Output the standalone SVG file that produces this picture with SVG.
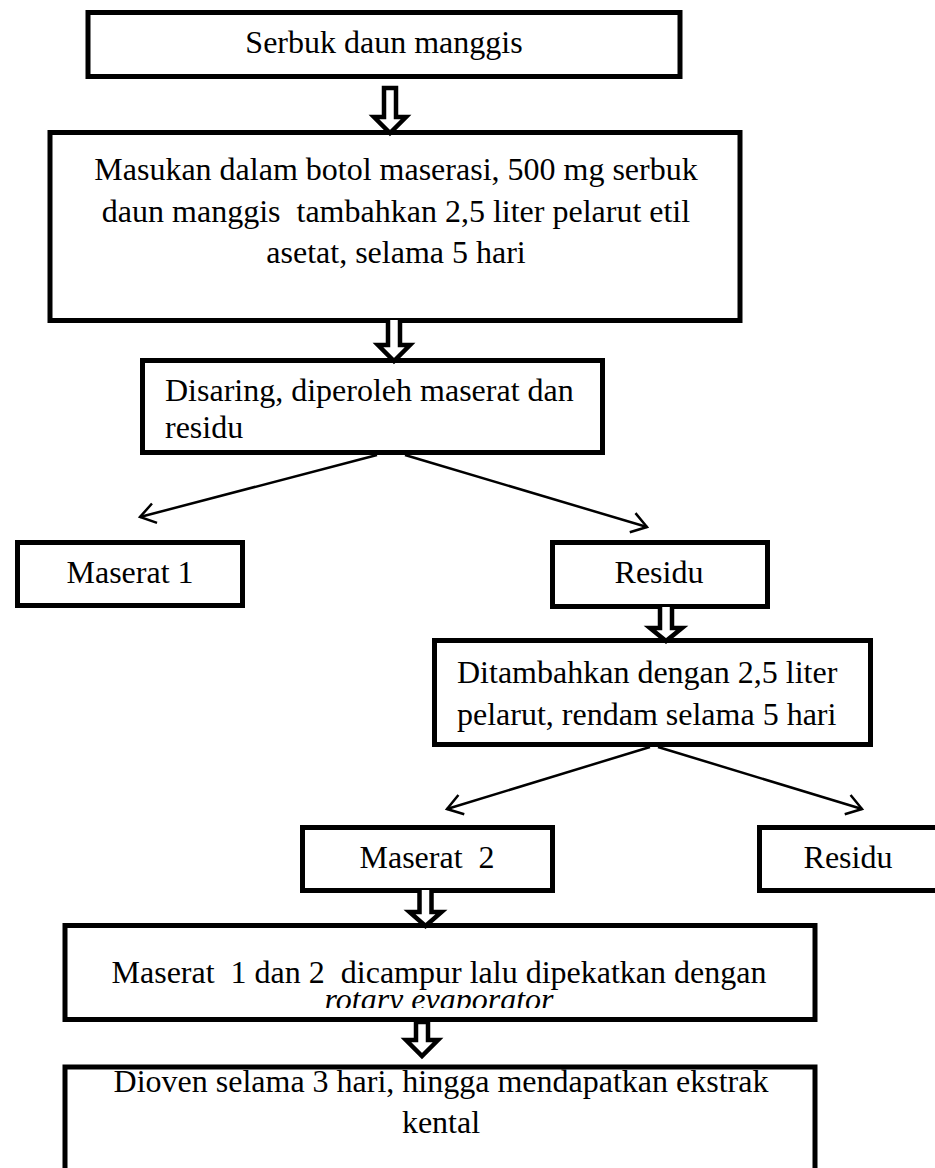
<svg xmlns="http://www.w3.org/2000/svg" width="935" height="1168" viewBox="0 0 935 1168">
<style>
.box{fill:#fff;stroke:#000;stroke-width:5}
.t{font-family:"Liberation Serif","Times New Roman",serif;font-size:32px;fill:#000;white-space:pre}
.c{text-anchor:middle}
.i{font-style:italic}
.blk{fill:#fff;stroke:#000;stroke-width:4.5;stroke-linejoin:miter}
.ln{fill:none;stroke:#000;stroke-width:2.5}
</style>
<defs>
<marker id="open" viewBox="-18 -12 22 24" markerWidth="22" markerHeight="24" refX="0" refY="0" orient="auto" markerUnits="userSpaceOnUse" overflow="visible">
<path d="M-15,-10 L0,0 L-15,10" fill="none" stroke="#000" stroke-width="2.5"/>
</marker>
<clipPath id="clip4"><rect x="60" y="920" width="760" height="88"/></clipPath>
</defs>
<rect width="935" height="1168" fill="#fff"/>

<g id="n1">
<rect class="box" x="88" y="12.5" width="592" height="64"/>
<text class="t c" x="384" y="53">Serbuk daun manggis</text>
</g>

<g id="n2">
<rect class="box" x="50" y="132.5" width="690" height="188"/>
<text class="t c" x="396" y="180">Masukan dalam botol maserasi, 500 mg serbuk</text>
<text class="t c" x="396" y="222">daun manggis  tambahkan 2,5 liter pelarut etil</text>
<text class="t c" x="396" y="263">asetat, selama 5 hari</text>
</g>

<g id="n3">
<rect class="box" x="142.5" y="360.5" width="460" height="92"/>
<text class="t" x="165" y="401">Disaring, diperoleh maserat dan</text>
<text class="t" x="165" y="438">residu</text>
</g>

<g id="n4">
<rect class="box" x="17.5" y="542.5" width="225" height="63"/>
<text class="t c" x="130" y="583">Maserat 1</text>
</g>

<g id="n5">
<rect class="box" x="552.5" y="542.5" width="215" height="64"/>
<text class="t c" x="659" y="583">Residu</text>
</g>

<g id="n6">
<rect class="box" x="434.5" y="640.5" width="436" height="104"/>
<text class="t" x="457" y="683">Ditambahkan dengan 2,5 liter</text>
<text class="t" x="457" y="725">pelarut, rendam selama 5 hari</text>
</g>

<g id="n7">
<rect class="box" x="302.5" y="827.5" width="250" height="63"/>
<text class="t c" x="427" y="868">Maserat  2</text>
</g>

<g id="n8">
<rect class="box" x="759.5" y="827.5" width="190" height="63"/>
<text class="t c" x="848" y="868">Residu</text>
</g>

<g id="n9">
<rect class="box" x="65" y="925.5" width="750" height="94"/>
<g clip-path="url(#clip4)">
<text class="t c" x="439" y="983">Maserat  1 dan 2  dicampur lalu dipekatkan dengan</text>
<text class="t c i" x="439" y="1010">rotary evaporator</text>
</g>
</g>

<g id="n10">
<rect class="box" x="65" y="1067" width="750" height="200"/>
<text class="t c" x="441" y="1092">Dioven selama 3 hari, hingga mendapatkan ekstrak</text>
<text class="t c" x="441" y="1133">kental</text>
</g>

<g id="connectors">
<path class="blk" d="M384,88 L384,117 L374,117 L390,133 L406,117 L396,117 L396,88 Z"/>
<path class="blk" d="M388,320 L388,345 L378,345 L394,361 L410,345 L400,345 L400,320"/>
<path class="blk" d="M660,607 L660,628 L650,628 L666,641 L682,628 L672,628 L672,607"/>
<path class="blk" d="M419.5,890 L419.5,912 L409.5,912 L425.5,926 L441.5,912 L431.5,912 L431.5,890"/>
<path class="blk" d="M416,1022 L416,1040 L406,1040 L422,1056 L438,1040 L428,1040 L428,1022 Z"/>
<line class="ln" x1="377" y1="455" x2="140" y2="517" marker-end="url(#open)"/>
<line class="ln" x1="405" y1="455" x2="647" y2="527" marker-end="url(#open)"/>
<line class="ln" x1="650" y1="747" x2="447" y2="809" marker-end="url(#open)"/>
<line class="ln" x1="658" y1="747" x2="862" y2="809" marker-end="url(#open)"/>
</g>
</svg>
